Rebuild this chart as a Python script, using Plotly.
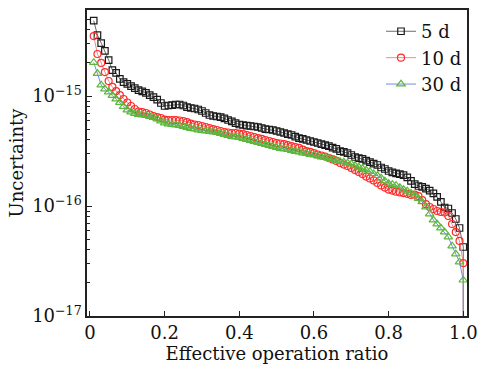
import plotly.graph_objects as go

ratio = [0.01, 0.02, 0.03, 0.04, 0.05, 0.06, 0.07, 0.08, 0.09, 0.10,
         0.11, 0.12, 0.13, 0.14, 0.15, 0.16, 0.17, 0.18, 0.19, 0.20,
         0.21, 0.22, 0.23, 0.24, 0.25, 0.26, 0.27, 0.28, 0.29, 0.30,
         0.31, 0.32, 0.33, 0.34, 0.35, 0.36, 0.37, 0.38, 0.39, 0.40,
         0.41, 0.42, 0.43, 0.44, 0.45, 0.46, 0.47, 0.48, 0.49, 0.50,
         0.51, 0.52, 0.53, 0.54, 0.55, 0.56, 0.57, 0.58, 0.59, 0.60,
         0.61, 0.62, 0.63, 0.64, 0.65, 0.66, 0.67, 0.68, 0.69, 0.70,
         0.71, 0.72, 0.73, 0.74, 0.75, 0.76, 0.77, 0.78, 0.79, 0.80,
         0.81, 0.82, 0.83, 0.84, 0.85, 0.86, 0.87, 0.88, 0.89, 0.90,
         0.91, 0.92, 0.93, 0.94, 0.95, 0.96, 0.97, 0.98, 0.99, 1.00]

u_5d = [4.84e-15, 3.58e-15, 3.03e-15, 2.57e-15, 2.12e-15, 1.72e-15, 1.62e-15, 1.43e-15, 1.34e-15, 1.29e-15,
        1.23e-15, 1.18e-15, 1.13e-15, 1.10e-15, 1.07e-15, 1.02e-15, 9.79e-16, 9.29e-16, 8.64e-16, 8.11e-16,
        8.20e-16, 8.28e-16, 8.37e-16, 8.37e-16, 8.20e-16, 7.94e-16, 7.78e-16, 7.70e-16, 7.54e-16, 7.31e-16,
        7.01e-16, 6.72e-16, 6.58e-16, 6.51e-16, 6.44e-16, 6.25e-16, 6.05e-16, 5.87e-16, 5.68e-16, 5.51e-16,
        5.45e-16, 5.39e-16, 5.34e-16, 5.28e-16, 5.23e-16, 5.12e-16, 5.01e-16, 4.96e-16, 4.91e-16, 4.81e-16,
        4.71e-16, 4.61e-16, 4.51e-16, 4.42e-16, 4.28e-16, 4.15e-16, 4.07e-16, 3.98e-16, 3.90e-16, 3.82e-16,
        3.74e-16, 3.66e-16, 3.58e-16, 3.51e-16, 3.40e-16, 3.30e-16, 3.16e-16, 3.10e-16, 3.03e-16, 2.91e-16,
        2.79e-16, 2.73e-16, 2.68e-16, 2.59e-16, 2.51e-16, 2.43e-16, 2.36e-16, 2.24e-16, 2.17e-16, 2.08e-16,
        2.02e-16, 1.98e-16, 1.95e-16, 1.91e-16, 1.82e-16, 1.69e-16, 1.58e-16, 1.52e-16, 1.49e-16, 1.44e-16,
        1.38e-16, 1.30e-16, 1.21e-16, 1.09e-16, 9.69e-17, 9.49e-17, 8.64e-17, 7.62e-17, 6.31e-17, 4.24e-17]

u_10d = [3.51e-15, 2.41e-15, 2.00e-15, 1.65e-15, 1.37e-15, 1.21e-15, 1.11e-15, 1.02e-15, 9.39e-16, 8.73e-16,
         8.11e-16, 7.62e-16, 7.23e-16, 7.15e-16, 7.01e-16, 6.79e-16, 6.58e-16, 6.44e-16, 6.31e-16, 6.11e-16,
         6.05e-16, 6.05e-16, 6.05e-16, 5.99e-16, 5.93e-16, 5.80e-16, 5.62e-16, 5.51e-16, 5.45e-16, 5.34e-16,
         5.23e-16, 5.12e-16, 5.01e-16, 4.91e-16, 4.81e-16, 4.71e-16, 4.66e-16, 4.61e-16, 4.61e-16, 4.56e-16,
         4.51e-16, 4.42e-16, 4.33e-16, 4.24e-16, 4.15e-16, 4.07e-16, 3.98e-16, 3.90e-16, 3.82e-16, 3.74e-16,
         3.70e-16, 3.66e-16, 3.58e-16, 3.51e-16, 3.44e-16, 3.37e-16, 3.26e-16, 3.16e-16, 3.10e-16, 3.03e-16,
         2.94e-16, 2.88e-16, 2.82e-16, 2.73e-16, 2.65e-16, 2.57e-16, 2.46e-16, 2.38e-16, 2.31e-16, 2.22e-16,
         2.12e-16, 2.04e-16, 1.95e-16, 1.85e-16, 1.78e-16, 1.71e-16, 1.62e-16, 1.54e-16, 1.47e-16, 1.41e-16,
         1.38e-16, 1.35e-16, 1.33e-16, 1.31e-16, 1.29e-16, 1.26e-16, 1.27e-16, 1.23e-16, 1.13e-16, 1.04e-16,
         9.79e-17, 9.39e-17, 9.01e-17, 8.82e-17, 8.73e-17, 8.11e-17, 6.86e-17, 5.80e-17, 4.81e-17, 3.03e-17]

u_30d = [2.02e-15, 1.60e-15, 1.26e-15, 1.16e-15, 1.09e-15, 1.01e-15, 9.39e-16, 8.73e-16, 8.03e-16, 7.46e-16,
         7.15e-16, 6.93e-16, 6.79e-16, 6.72e-16, 6.65e-16, 6.51e-16, 6.38e-16, 6.18e-16, 5.93e-16, 5.68e-16,
         5.57e-16, 5.51e-16, 5.45e-16, 5.39e-16, 5.28e-16, 5.17e-16, 5.07e-16, 5.01e-16, 4.91e-16, 4.86e-16,
         4.81e-16, 4.76e-16, 4.71e-16, 4.66e-16, 4.56e-16, 4.47e-16, 4.38e-16, 4.28e-16, 4.24e-16, 4.20e-16,
         4.11e-16, 4.02e-16, 3.94e-16, 3.86e-16, 3.78e-16, 3.70e-16, 3.62e-16, 3.55e-16, 3.47e-16, 3.40e-16,
         3.33e-16, 3.30e-16, 3.26e-16, 3.19e-16, 3.13e-16, 3.10e-16, 3.03e-16, 3.00e-16, 2.94e-16, 2.91e-16,
         2.85e-16, 2.79e-16, 2.76e-16, 2.70e-16, 2.65e-16, 2.59e-16, 2.54e-16, 2.51e-16, 2.46e-16, 2.41e-16,
         2.33e-16, 2.26e-16, 2.19e-16, 2.12e-16, 2.06e-16, 1.97e-16, 1.89e-16, 1.80e-16, 1.69e-16, 1.60e-16,
         1.57e-16, 1.54e-16, 1.47e-16, 1.41e-16, 1.37e-16, 1.31e-16, 1.25e-16, 1.17e-16, 1.09e-16, 9.79e-17,
         8.46e-17, 7.46e-17, 6.86e-17, 6.31e-17, 5.80e-17, 5.23e-17, 4.33e-17, 3.66e-17, 3.10e-17, 2.12e-17]

# the curves fall to (near) zero at the end of the range
end_ratio = 1.0
end_value = 1e-20

series_names = ["5 d", "10 d", "30 d"]
x_ticks = [0, 0.2, 0.4, 0.6, 0.8, 1.0]
x_tick_text = ["0", "0.2", "0.4", "0.6", "0.8", "1.0"]
y_ticks = [1e-17, 1e-16, 1e-15]
y_tick_text = ["10<sup>\u221217</sup>", "10<sup>\u221216</sup>", "10<sup>\u221215</sup>"]

FONT = "DejaVu Serif"

styles = [
    dict(line="#6b6b6b", marker="#1a1a1a", symbol="square-open", size=6.5),
    dict(line="#f58a8a", marker="#ff2a2a", symbol="circle-open", size=7),
    dict(line="#6f8fe0", marker="#5cb83a", symbol="triangle-up-open", size=7.5),
]

fig = go.Figure()
for name, vals, st in zip(series_names, [u_5d, u_10d, u_30d], styles):
    fig.add_trace(go.Scatter(
        x=ratio + [end_ratio], y=vals + [end_value], name=name, mode="lines+markers",
        line=dict(color=st["line"], width=1),
        marker=dict(symbol=st["symbol"], size=st["size"], color=st["marker"],
                    line=dict(width=1.2, color=st["marker"])),
    ))

fig.update_layout(
    width=479, height=366,
    margin=dict(l=87, r=12, t=10, b=50, autoexpand=False),
    paper_bgcolor="white", plot_bgcolor="white",
    font=dict(family=FONT, size=17, color="#111"),
    legend=dict(x=1.0, y=0.99, xanchor="right", yanchor="top",
                bgcolor="rgba(0,0,0,0)", font=dict(size=18, family=FONT),
                tracegroupgap=0, itemwidth=30),
    showlegend=True,
)
fig.update_xaxes(
    range=[-0.008, 1.010], tickvals=x_ticks, ticktext=x_tick_text,
    ticks="inside", ticklen=5, tickwidth=1.2, tickcolor="#222",
    showline=True, linecolor="#222", linewidth=1.5, mirror=True,
    showgrid=False, zeroline=False, automargin=False,
    title=dict(text="Effective operation ratio", standoff=2, font=dict(size=18)),
    tickfont=dict(size=18),
)
fig.update_yaxes(
    type="log", range=[-17, -14.218], tickvals=y_ticks, ticktext=y_tick_text,
    ticks="inside", ticklen=5, tickwidth=1.2, tickcolor="#222",
    minor=dict(ticks="inside", ticklen=3, tickcolor="#222", dtick="D1", showgrid=False),
    showline=True, linecolor="#222", linewidth=1.5, mirror=True,
    showgrid=False, zeroline=False, automargin=False,
    title=dict(text="Uncertainty", standoff=4, font=dict(size=18)),
    tickfont=dict(size=18),
)

fig.write_html("out.html")
